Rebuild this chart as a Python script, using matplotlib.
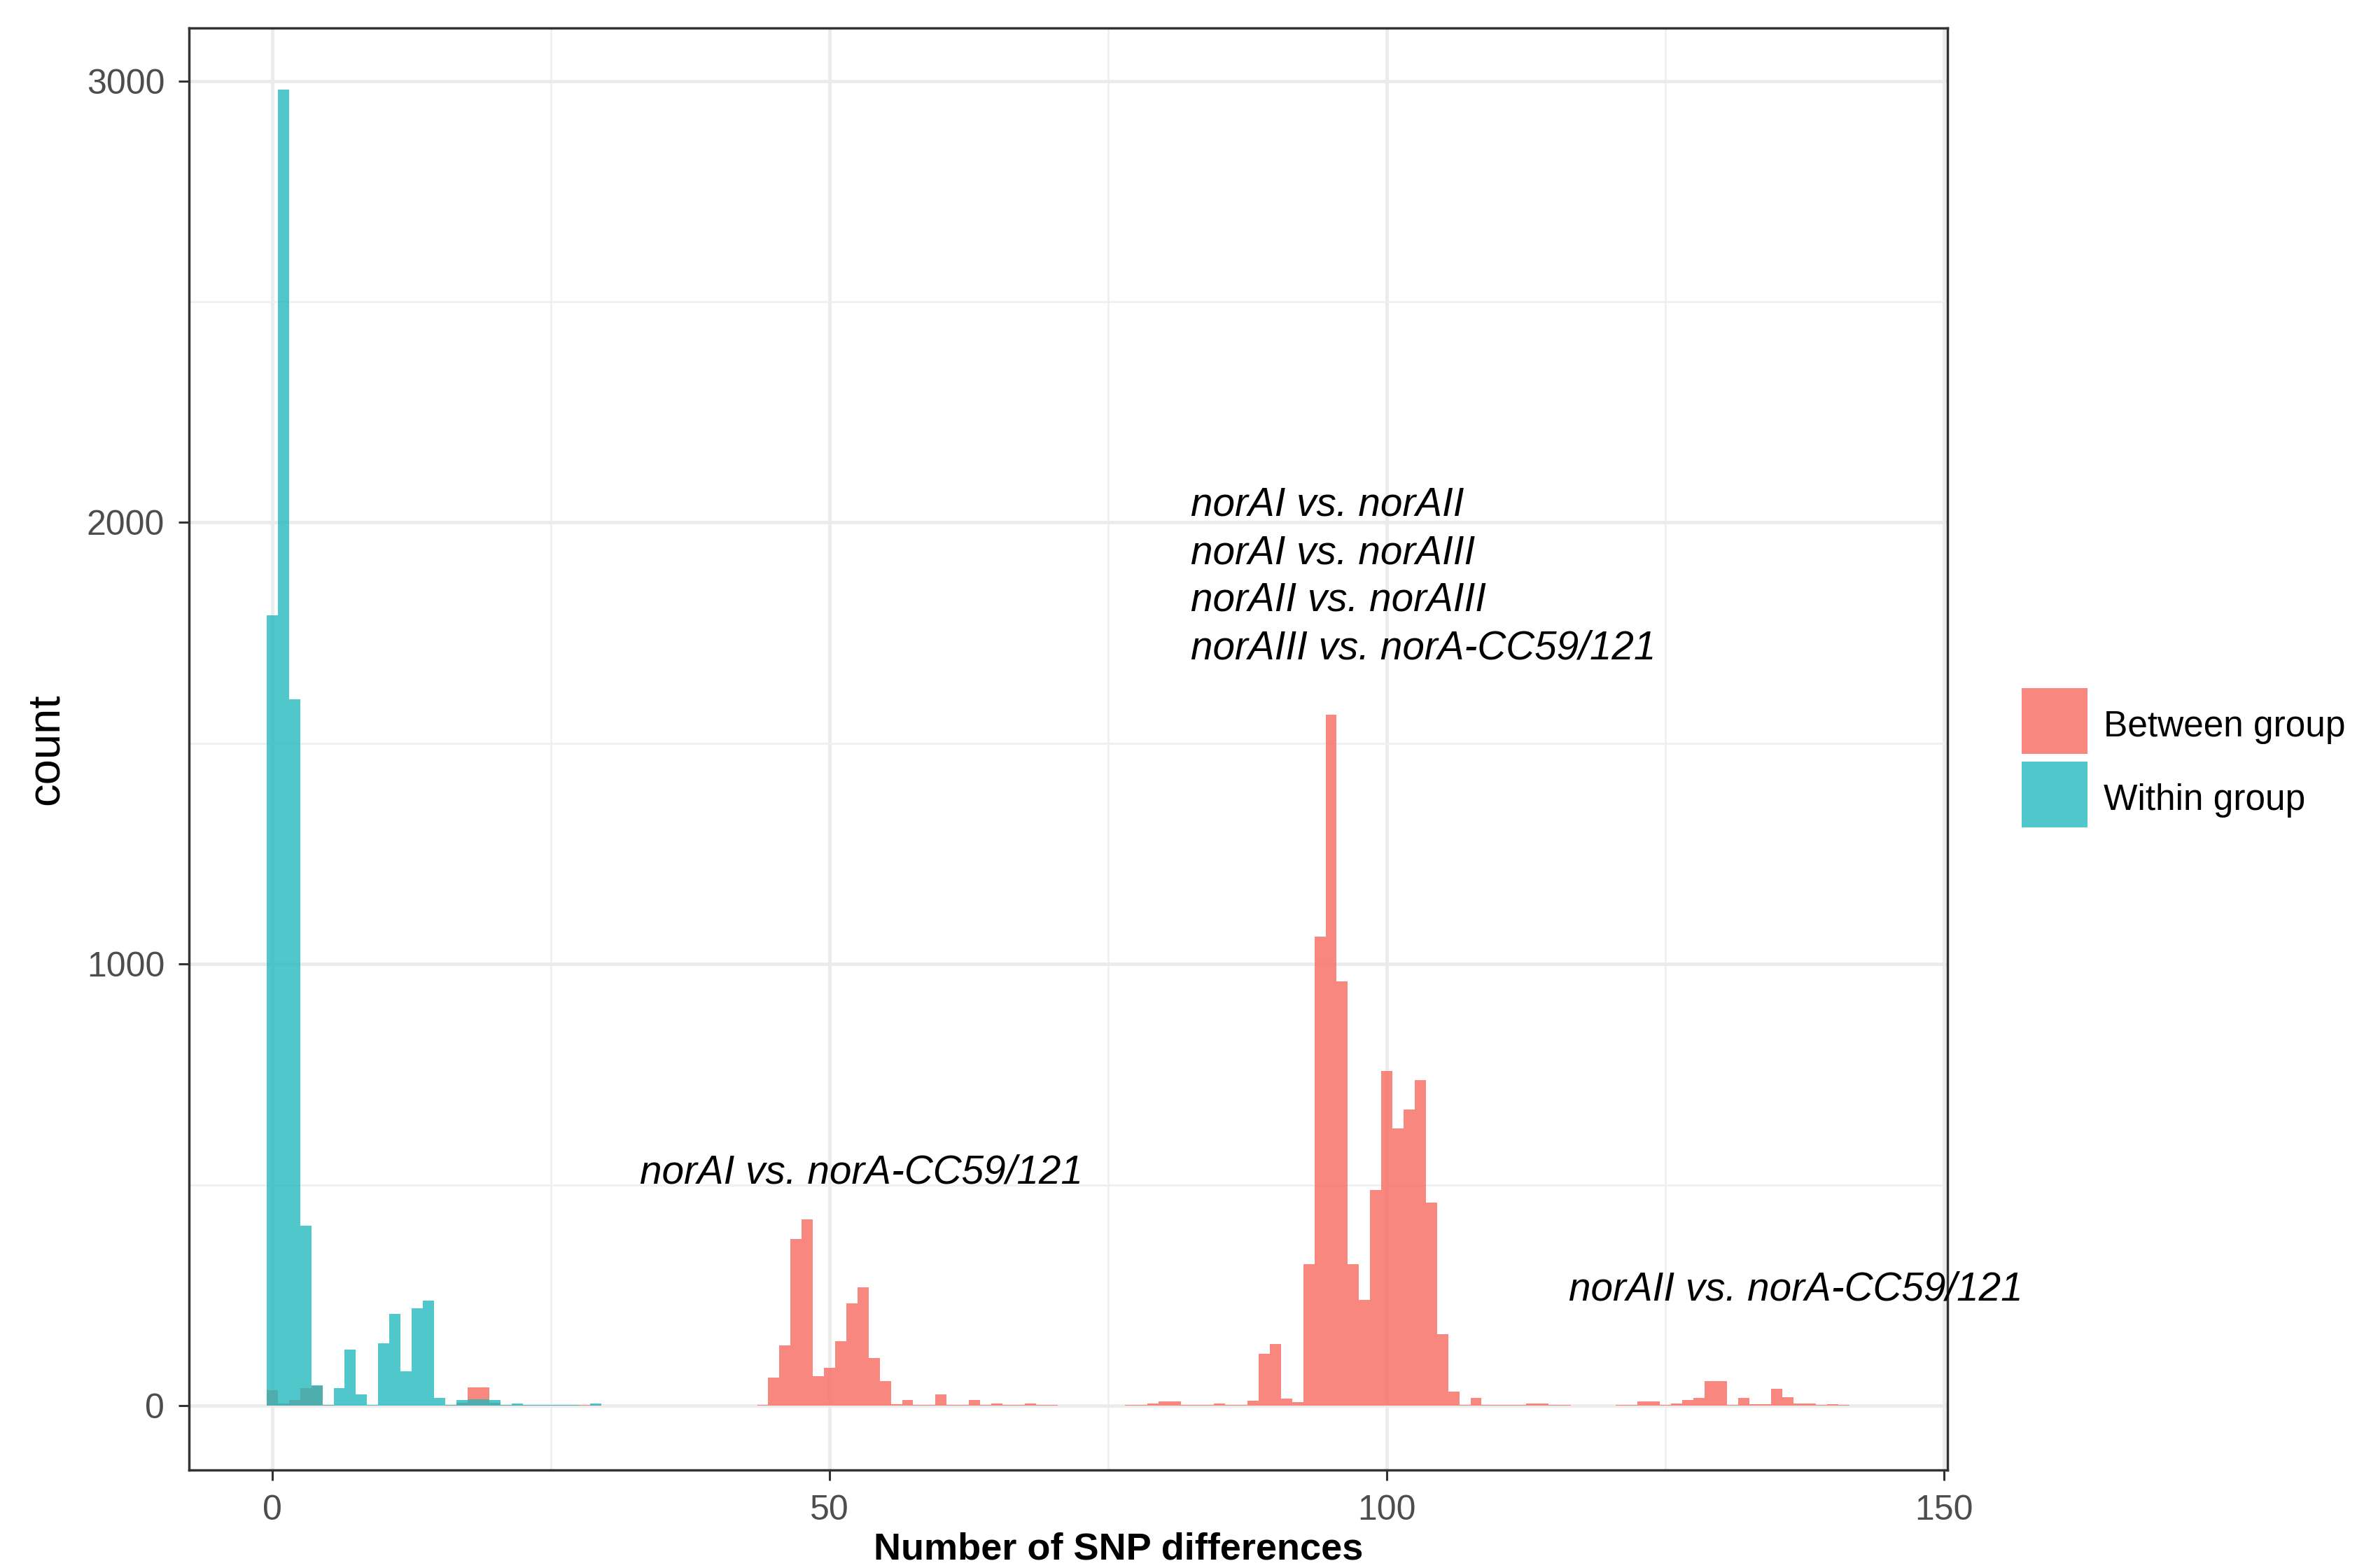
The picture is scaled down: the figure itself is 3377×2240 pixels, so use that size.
import numpy as np
import matplotlib
matplotlib.use("Agg")
import matplotlib.pyplot as plt
from matplotlib.patches import Rectangle

plt.rcParams['font.family'] = ['Liberation Sans', 'DejaVu Sans']

# ---- data: histogram counts per SNP-difference bin (binwidth 1, bins centred on integers) ----
snp_bins = list(range(0, 146))

between_counts = [
    34, 5, 12, 40, 44, 2, 0, 0, 0, 0,            # 0-9
    0, 0, 0, 0, 0, 0, 2, 6, 41, 41,              # 10-19
    6, 2, 1, 1, 1, 1, 1, 1, 1, 2,                # 20-29
    0, 0, 0, 0, 0, 0, 0, 0, 0, 0,                # 30-39
    0, 0, 0, 0, 2, 64, 137, 377, 422, 66,        # 40-49
    85, 145, 231, 268, 108, 56, 3, 12, 1, 1,     # 50-59
    26, 2, 2, 12, 1, 4, 2, 2, 4, 1,              # 60-69
    1, 0, 0, 0, 0, 0, 0, 1, 2, 4,                # 70-79
    10, 10, 1, 1, 1, 4, 2, 2, 11, 117,           # 80-89
    140, 15, 8, 320, 1062, 1565, 960, 320, 240, 488,   # 90-99
    757, 628, 670, 737, 460, 162, 32, 2, 18, 2,  # 100-109
    2, 1, 1, 4, 4, 1, 1, 0, 0, 0,                # 110-119
    0, 1, 1, 10, 10, 2, 4, 12, 18, 55,           # 120-129
    55, 2, 18, 3, 3, 38, 19, 4, 4, 1,            # 130-139
    3, 1, 0, 0, 0, 0,                            # 140-145
]

within_counts = [
    1790, 2980, 1600, 408, 46, 2, 40, 127, 25, 2,   # 0-9
    141, 207, 78, 221, 237, 17, 1, 13, 14, 14,      # 10-19
    12, 1, 4, 2, 2, 1, 1, 1, 0, 4,                  # 20-29
] + [0] * (146 - 30)

group_labels = ["Between group", "Within group"]

annot_left = "norAI vs. norA-CC59/121"
annot_mid = ["norAI vs. norAII", "norAI vs. norAIII",
             "norAII vs. norAIII", "norAIII vs. norA-CC59/121"]
annot_right = "norAII vs. norA-CC59/121"

# ---- styling ----
RED = '#F8766D'
TEAL = '#1FB8BC'
RED_ALPHA = 0.88
TEAL_ALPHA = 0.78

W, H, DPI = 3377, 2240, 200
fig = plt.figure(figsize=(W / DPI, H / DPI), dpi=DPI)
ax = fig.add_axes([270 / W, 1 - 2100 / H, (2782 - 270) / W, (2100 - 40) / H])

ax.bar(snp_bins, between_counts, width=1.0, color=RED, alpha=RED_ALPHA,
       linewidth=0, zorder=2)
ax.bar(snp_bins, within_counts, width=1.0, color=TEAL, alpha=TEAL_ALPHA,
       linewidth=0, zorder=3)

ax.set_xlim(-7.47, 150.3)
ax.set_ylim(-146, 3120)

ax.set_xticks([0, 50, 100, 150])
ax.set_xticks([25, 75, 125], minor=True)
ax.set_yticks([0, 1000, 2000, 3000])
ax.set_yticks([500, 1500, 2500], minor=True)

ax.grid(which='major', color='#EBEBEB', linewidth=1.7, zorder=0)
ax.grid(which='minor', color='#EFEFEF', linewidth=0.9, zorder=0)
ax.set_axisbelow(True)

for sp in ax.spines.values():
    sp.set_color('#333333')
    sp.set_linewidth(1.25)

ax.tick_params(which='major', length=5.5, width=1.1, color='#333333',
               labelsize=18, labelcolor='#4D4D4D', pad=7)
ax.tick_params(which='minor', length=0)

ax.set_xlabel("Number of SNP differences", fontsize=19.5, fontweight='bold',
              color='black')
ax.xaxis.set_label_coords((1598 - 270) / 2512, (2100 - 2213) / 2060)
ax.xaxis.label.set_va('center')

ax.set_ylabel("count", fontsize=23.5, color='black')
ax.yaxis.set_label_coords((66 - 270) / 2512, 0.5)
ax.yaxis.label.set_va('center')

# ---- annotations ----
FS_ANN = 20.4
ax.text(33.0, 503, annot_left, fontsize=FS_ANN, fontstyle='italic',
        ha='left', va='baseline', clip_on=False, zorder=5)
mid_baselines = [2015, 1906, 1800, 1690]
for txt, yb in zip(annot_mid, mid_baselines):
    ax.text(82.4, yb, txt, fontsize=FS_ANN, fontstyle='italic',
            ha='left', va='baseline', clip_on=False, zorder=5)
ax.text(116.3, 239, annot_right, fontsize=FS_ANN, fontstyle='italic',
        ha='left', va='baseline', clip_on=False, zorder=5)

# ---- legend (drawn as keys + labels in figure pixel space) ----
key_colors = [(RED, RED_ALPHA), (TEAL, TEAL_ALPHA)]
key_x0, key_size = 2887.6, 94.2
key_tops = [982.5, 1087.6]
label_baselines = [1052, 1157]
for (col, a), top, base, lab in zip(key_colors, key_tops, label_baselines, group_labels):
    fig.add_artist(Rectangle((key_x0 / W, 1 - (top + key_size) / H),
                             key_size / W, key_size / H,
                             transform=fig.transFigure, facecolor=col,
                             alpha=a, edgecolor='none'))
    fig.text(3004.6 / W, 1 - base / H, lab, fontsize=18.5, color='black',
             ha='left', va='baseline')

fig.savefig("out.png", dpi=DPI)
